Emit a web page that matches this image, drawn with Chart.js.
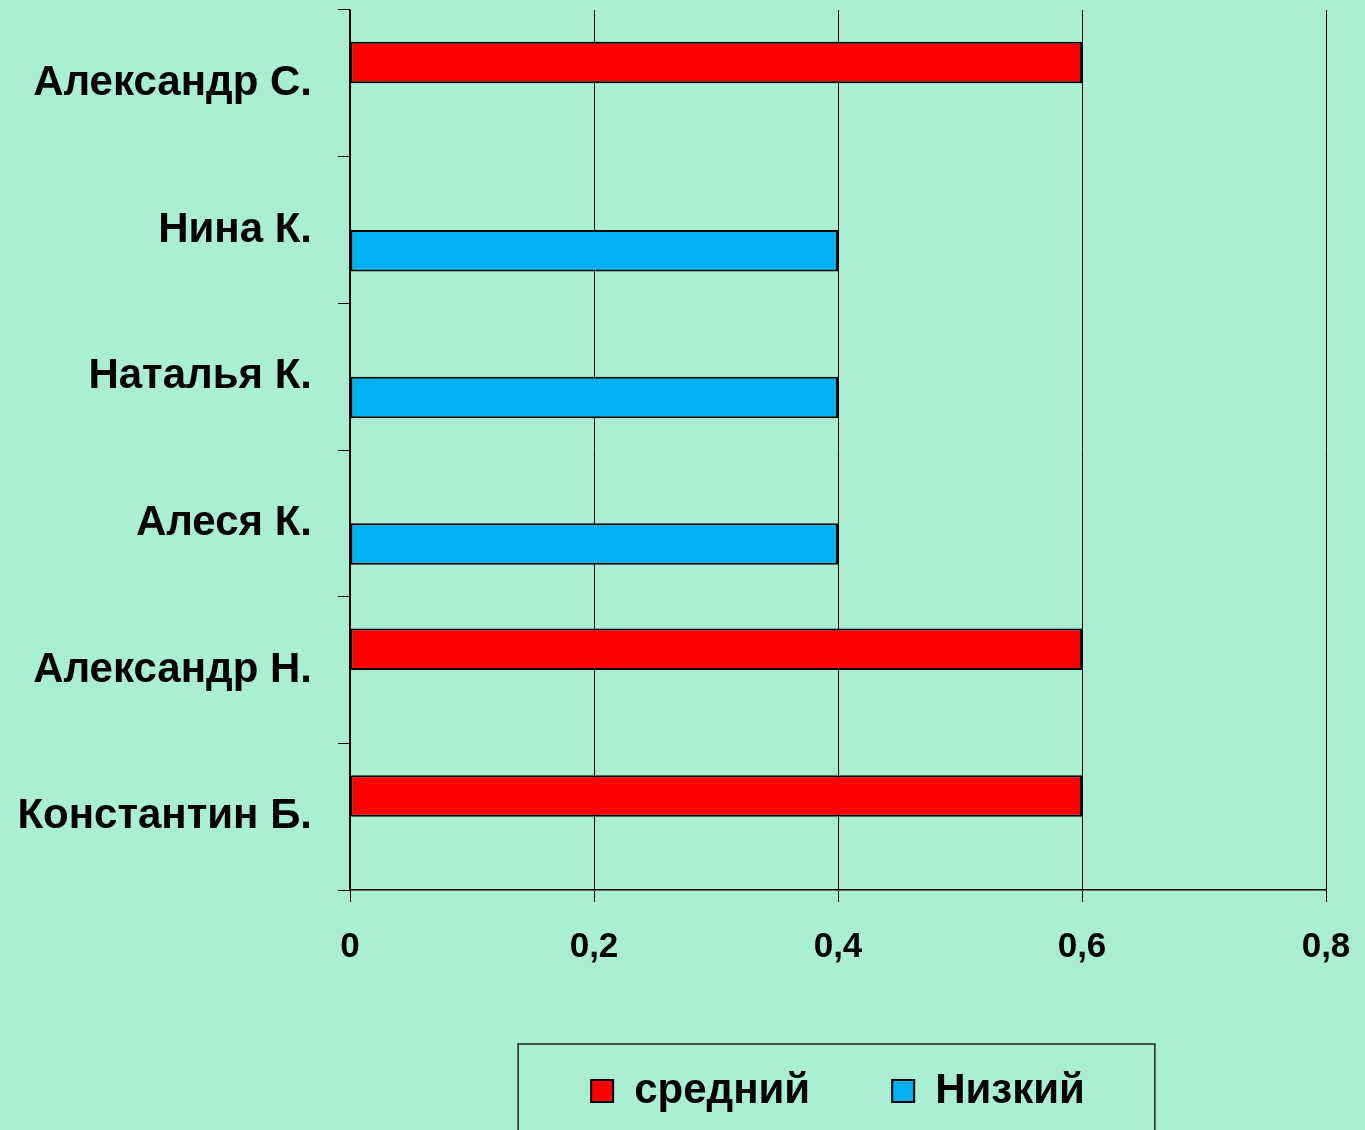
<!DOCTYPE html>
<html>
<head>
<meta charset="utf-8">
<style>
  html, body { margin: 0; padding: 0; background: #aaeed4; overflow: hidden; }
  canvas { display: block; }
</style>
<script src="https://cdn.jsdelivr.net/npm/chart.js@4.4.1/dist/chart.umd.min.js"></script>
</head>
<body>
<canvas id="myChart" width="1365" height="1130"></canvas>
<script>
'use strict';

let names = ['Александр С.', 'Нина К.', 'Наталья К.', 'Алеся К.', 'Александр Н.', 'Константин Б.'];
let middleVals = [0.6, null, null, null, 0.6, 0.6];
let lowVals = [null, 0.4, 0.4, 0.4, null, null];
let xTicks = [0, 0.2, 0.4, 0.6, 0.8];

let canvasElem = document.getElementById('myChart');
let fontFam = "'Liberation Sans', Arial, sans-serif";

// frame round the legend, like the original
let legendFrame = {
  id: 'legendFrame',
  afterDraw(chart) {
    let boxes = chart.legend.legendHitBoxes;
    if (!boxes || !boxes.length) return;
    let left = boxes[0].left;
    let last = boxes[boxes.length - 1];
    let right = last.left + last.width;
    let mid = boxes[0].top + boxes[0].height / 2;
    let ctx = chart.ctx;
    ctx.save();
    ctx.strokeStyle = '#222';
    ctx.lineWidth = 1.5;
    ctx.strokeRect(left - 73, mid - 47, right - left + 143, 200);
    ctx.restore();
  }
};

function renderChart() {
  let chartObj = {
    type: 'bar',
    data: {
      labels: names,
      datasets: [{
        label: 'средний',
        data: middleVals,
        backgroundColor: '#ff0000',
        borderColor: '#000',
        borderWidth: 2,
        borderSkipped: false
      },
      {
        label: 'Низкий',
        data: lowVals,
        backgroundColor: '#00b0f0',
        borderColor: '#000',
        borderWidth: 2,
        borderSkipped: false
      }]
    },
    options: {
      indexAxis: 'y',
      responsive: false,
      animation: false,
      categoryPercentage: 0.566,
      barPercentage: 1,
      layout: { padding: { top: 10, right: 39, left: 0, bottom: 8 } },
      scales: {
        x: {
          min: 0,
          max: 0.8,
          afterBuildTicks(scale) {
            scale.ticks = xTicks.map(v => ({ value: v }));
          },
          afterFit(scale) {
            scale.height = 98;
            scale.paddingLeft = 0;
            scale.paddingRight = 0;
          },
          grid: { color: '#000', lineWidth: 1, tickLength: 12 },
          border: { color: '#000', width: 1.5 },
          ticks: {
            padding: 24,
            color: '#000',
            font: { family: fontFam, size: 35, weight: 'bold' },
            callback: v => (v === 0 ? '0' : v.toFixed(1).replace('.', ','))
          }
        },
        y: {
          afterFit(scale) {
            scale.width = 350;
            scale.paddingTop = 0;
            scale.paddingBottom = 0;
          },
          grid: { drawOnChartArea: false, color: '#000', tickLength: 12 },
          border: { color: '#000', width: 1.5 },
          ticks: {
            padding: 26,
            color: '#000',
            font: { family: fontFam, size: 42, weight: 'bold' }
          }
        }
      },
      plugins: {
        tooltip: { enabled: false },
        legend: {
          position: 'bottom',
          fullSize: false,
          labels: {
            boxWidth: 22,
            boxHeight: 22,
            padding: 82,
            color: '#000',
            font: { family: fontFam, size: 42, weight: 'bold' }
          }
        }
      }
    },
    plugins: [legendFrame]
  };
  new Chart(canvasElem, chartObj);
}
renderChart();
</script>
</body>
</html>
